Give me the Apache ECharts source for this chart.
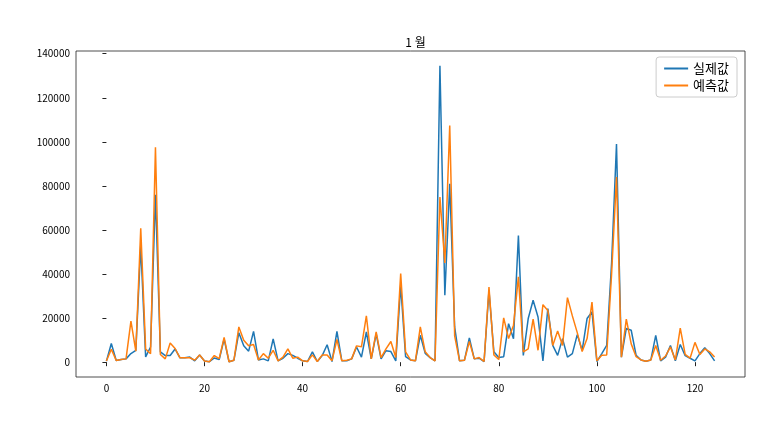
<!DOCTYPE html>
<html>
<head>
<meta charset="utf-8">
<script src="https://cdn.jsdelivr.net/npm/echarts@6/dist/echarts.min.js"></script>
<style>html,body{margin:0;padding:0;background:#fff}#c{width:781px;height:429px}</style>
</head>
<body>
<div id="c"></div>
<script>
var titleText = '1 월';
var seriesNames = ['실제값', '예측값'];
var actual = [500,8500,800,1200,1500,3900,5400,53000,2400,6900,
76000,4700,3000,3000,6000,2000,2000,2300,600,3300,
500,200,1900,1200,10500,200,900,13400,7500,5000,
14000,1000,1500,600,10600,600,1800,3900,3100,1800,
600,300,4700,300,3000,7900,300,14000,600,600,
1500,6900,2300,13700,1500,12900,1500,5200,4800,600,
34900,2500,1000,600,12200,4000,2100,600,134500,30400,
81000,16000,600,900,11000,1500,1800,300,32500,4700,
2100,2500,17500,10600,57500,3100,19800,28100,20500,600,
24300,7600,3100,10700,2300,3900,12500,5400,19800,22800,
300,3900,7600,45000,99000,2300,15300,14500,3100,1000,
400,1000,12200,600,2300,7600,600,8000,3000,1800,
600,3900,6500,3900,600];
var predicted = [500,5900,800,1200,1500,18600,5000,60800,6000,3800,
97500,3500,1500,8700,6200,2000,2000,2000,900,3300,
500,200,3000,1600,11200,200,900,16000,10000,7500,
8000,1000,3900,1800,5400,600,2300,6000,1800,2300,
600,300,3300,300,3300,3300,700,10300,600,900,
1500,7400,7000,21000,1500,13700,2100,6000,9400,2100,
40200,4700,1000,600,16000,4700,2100,600,74900,45000,
107400,12000,600,900,9400,1500,2100,300,34100,3300,
1200,20100,10700,16800,38700,4700,6000,19500,5400,26100,
23500,7600,14200,7600,29300,21000,13400,4800,10700,27300,
600,3100,3300,40000,84000,2300,19500,8300,2500,1000,
400,1000,7600,900,2800,6900,1000,15500,3500,1800,
9000,3500,6000,4700,2300];
var xTicks = [0,20,40,60,80,100,120];
var yTicks = [0,20000,40000,60000,80000,100000,120000,140000];

function pairs(arr){ return arr.map(function(v,i){ return [i,v]; }); }
var n = actual.length;
var yMaxData = Math.max(Math.max.apply(null, actual), Math.max.apply(null, predicted));
var yMinData = 0;
var yPad = (yMaxData - yMinData) * 0.05;
var xPad = (n - 1) * 0.05;

var gridLeft = 76, gridRight = 36;
var font = '"Noto Sans CJK KR", "DejaVu Sans", sans-serif';
var chart = echarts.init(document.getElementById('c'), null, {renderer:'canvas'});
chart.setOption({
  animation: false,
  backgroundColor: '#fff',
  title: {text: titleText, left: gridLeft + (781 - gridLeft - gridRight) / 2, textAlign: 'center', top: 31,
    textStyle:{fontFamily:font, fontSize:12, fontWeight:'normal', color:'#000'}},
  legend: {
    right: 44, top: 57, orient: 'vertical', itemGap: 4,
    itemWidth: 24, itemHeight: 2,
    backgroundColor: 'rgba(255,255,255,0.8)', borderColor: '#ccc', borderWidth: 1, borderRadius: 3,
    padding: [5, 8, 5, 8],
    textStyle: {fontFamily: font, fontSize: 13, color: '#000'},
    icon: 'rect',
    data: seriesNames
  },
  grid: {left: gridLeft, right: gridRight, top: 51, bottom: 52, show: true, borderColor: '#222', borderWidth: 0.8, backgroundColor:'transparent'},
  xAxis: {
    type: 'value', min: -xPad, max: (n - 1) + xPad,
    splitLine: {show: false},
    axisLine: {show: false},
    axisTick: {show: true, length: 4, lineStyle:{color:'#222'}, customValues: xTicks},
    axisLabel: {fontFamily: font, fontSize: 10, color: '#000', margin: 6, customValues: xTicks}
  },
  yAxis: {
    type: 'value', min: yMinData - yPad, max: yMaxData + yPad,
    splitLine: {show: false},
    axisLine: {show: false},
    axisTick: {show: true, length: 4, lineStyle:{color:'#222'}, customValues: yTicks},
    axisLabel: {fontFamily: font, fontSize: 10, color: '#000', margin: 6, customValues: yTicks,
      formatter: function(v){ return String(v); }}
  },
  series: [
    {name: seriesNames[0], type: 'line', data: pairs(actual), symbol: 'none', lineStyle: {color: '#1f77b4', width: 1.5}, itemStyle:{color:'#1f77b4'}},
    {name: seriesNames[1], type: 'line', data: pairs(predicted), symbol: 'none', lineStyle: {color: '#ff7f0e', width: 1.5}, itemStyle:{color:'#ff7f0e'}}
  ]
});
</script>
</body>
</html>
